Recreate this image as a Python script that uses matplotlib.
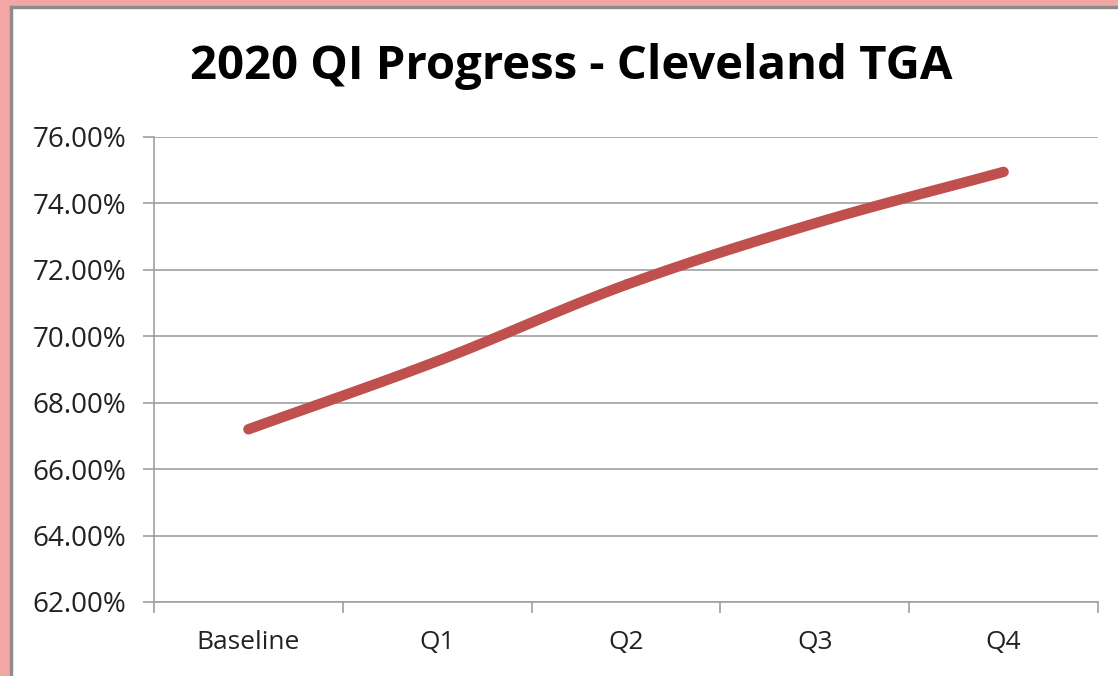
import numpy as np
import matplotlib.pyplot as plt
from matplotlib.patches import Rectangle
from matplotlib.ticker import FuncFormatter

# chart data
categories = ['Baseline', 'Q1', 'Q2', 'Q3', 'Q4']
values = [67.2, 69.25, 71.55, 73.4, 74.95]
y_ticks = [62, 64, 66, 68, 70, 72, 74, 76]

W, H = 1118, 676
fig = plt.figure(figsize=(W / 100, H / 100), dpi=100)
fig.patch.set_facecolor('white')

# pink frame on the left and top edges, with a thin grey inner line
pink = '#F2A7A5'
fig.patches.append(Rectangle((0, 0), 10 / W, 1, transform=fig.transFigure, color=pink, zorder=0))
fig.patches.append(Rectangle((0, 1 - 6 / H), 1, 6 / H, transform=fig.transFigure, color=pink, zorder=0))
fig.patches.append(Rectangle((10 / W, 0), 2 / W, 1 - 6 / H, transform=fig.transFigure, color='#8C8C8C', zorder=0))
fig.patches.append(Rectangle((10 / W, 1 - 8 / H), 1, 2 / H, transform=fig.transFigure, color='#8C8C8C', zorder=0))

ax = fig.add_axes([154 / W, 1 - 602 / H, (1098 - 154) / W, (602 - 137) / H])

# smooth line (Catmull-Rom style, like Excel's smoothed line)
x = np.arange(len(categories), dtype=float)
y = np.array(values)
px = np.concatenate([[2 * x[0] - x[1]], x, [2 * x[-1] - x[-2]]])
py = np.concatenate([[2 * y[0] - y[1]], y, [2 * y[-1] - y[-2]]])
xs, ys = [], []
t = np.linspace(0, 1, 30)
for i in range(1, len(px) - 2):
    p0, p1, p2, p3 = [np.array([px[j], py[j]]) for j in range(i - 1, i + 3)]
    seg = 0.5 * ((2 * p1)[:, None] + (-p0 + p2)[:, None] * t
                 + (2 * p0 - 5 * p1 + 4 * p2 - p3)[:, None] * t ** 2
                 + (-p0 + 3 * p1 - 3 * p2 + p3)[:, None] * t ** 3)
    xs.extend(seg[0])
    ys.extend(seg[1])
ax.plot(xs, ys, color='#C0504D', linewidth=7.5, solid_capstyle='round', zorder=3)

ax.set_xlim(-0.5, len(categories) - 0.5)
ax.set_ylim(62, 76)
ax.set_yticks(y_ticks)
ax.yaxis.set_major_formatter(FuncFormatter(lambda v, p: f'{v:.2f}%'))
ax.set_xticks(x)
ax.set_xticklabels(categories)
ax.set_xticks(np.arange(-0.5, len(categories), 1), minor=True)
ax.grid(axis='y', color='#A0A0A0', linewidth=1.2)
ax.set_axisbelow(True)

for s in ['top', 'right']:
    ax.spines[s].set_visible(False)
for s in ['left', 'bottom']:
    ax.spines[s].set_color('#A0A0A0')
    ax.spines[s].set_linewidth(1.2)

ax.tick_params(axis='x', which='major', length=0, pad=20, labelsize=19, labelcolor='#222222')
ax.tick_params(axis='x', which='minor', length=8, width=1.2, color='#A0A0A0')
ax.tick_params(axis='y', length=8, width=1.2, color='#A0A0A0', pad=12, labelsize=20, labelcolor='#222222')
for lab in ax.get_xticklabels() + ax.get_yticklabels():
    lab.set_fontfamily('Open Sans')

fig.text(571 / W, 1 - 66 / H, '2020 QI Progress - Cleveland TGA', ha='center', va='center',
         fontsize=34, fontweight='bold', family='Open Sans')

fig.savefig('out.png', dpi=100)
